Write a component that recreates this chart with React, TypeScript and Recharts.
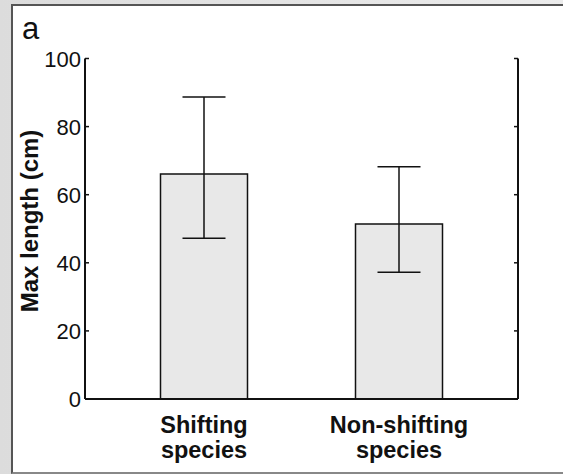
import React from 'react';
import { BarChart, Bar, XAxis, YAxis, ErrorBar } from 'recharts';

const categories = ['Shifting species', 'Non-shifting species'];
const means = [66.1, 51.4];
const upperLimits = [88.7, 68.2];
const lowerLimits = [47.2, 37.2];
const yTicks = [0, 20, 40, 60, 80, 100];

const FONT = '"Liberation Sans", Arial, Helvetica, sans-serif';

const data = categories.map((name, i) => ({
  name,
  value: means[i],
  err: [means[i] - lowerLimits[i], upperLimits[i] - means[i]],
}));

const LeftTick = ({ x, y, payload }: any) => (
  <g>
    <line x1={x} x2={x + 4} y1={y} y2={y} stroke="#111" strokeWidth={1.5} />
    <text x={x - 4} y={y} dy={8} textAnchor="end" fontSize={22} fontFamily={FONT} fill="#111">
      {payload.value}
    </text>
  </g>
);

const RightTick = ({ x, y }: any) => (
  <line x1={x - 4} x2={x} y1={y} y2={y} stroke="#111" strokeWidth={1.5} />
);

const CatTick = ({ x, y, payload }: any) => {
  const [first, second] = String(payload.value).split(' ');
  return (
    <text x={x} y={y} textAnchor="middle" fontSize={23.5} fontWeight="bold" fontFamily={FONT} fill="#111">
      <tspan x={x} dy={34}>{first}</tspan>
      <tspan x={x} dy={24.5}>{second}</tspan>
    </text>
  );
};

export default function App() {
  return (
    <div
      style={{
        position: 'absolute',
        left: 0,
        top: 0,
        width: 563,
        height: 474,
        overflow: 'hidden',
        background: 'linear-gradient(to right, #dcdcdc, #ececec)',
      }}
    >
      <div
        style={{
          position: 'absolute',
          left: 11,
          top: 4,
          width: 600,
          height: 466,
          background: '#fff',
          borderTop: '2px solid #555',
          borderLeft: '2px solid #555',
          borderBottom: '2px solid #888',
        }}
      />
      <div style={{ position: 'absolute', left: 0, top: 0 }}>
        <BarChart
          width={563}
          height={474}
          data={data}
          margin={{ top: 58.5, right: 0, bottom: 0, left: 0 }}
        >
          <text x={22} y={39} fontSize={31} fontFamily={FONT} fill="#111">a</text>
          <text
            x={38}
            y={221}
            transform="rotate(-90 38 221)"
            textAnchor="middle"
            fontSize={24}
            fontWeight="bold"
            fontFamily={FONT}
            fill="#111"
          >
            Max length (cm)
          </text>
          <XAxis
            dataKey="name"
            padding={{ left: 21.5, right: 21.5 }}
            axisLine={{ stroke: '#111', strokeWidth: 2 }}
            tickLine={false}
            tickSize={0}
            tickMargin={0}
            tick={<CatTick />}
            interval={0}
            height={75}
          />
          <XAxis
            xAxisId="top"
            dataKey="name"
            orientation="top"
            padding={{ left: 21.5, right: 21.5 }}
            axisLine={{ stroke: '#111', strokeWidth: 2 }}
            tickLine={false}
            tick={false}
            height={0}
          />
          <YAxis
            domain={[0, 100]}
            ticks={yTicks}
            width={85}
            axisLine={{ stroke: '#111', strokeWidth: 2 }}
            tickLine={false}
            tickSize={0}
            tickMargin={0}
            tick={<LeftTick />}
            allowDataOverflow
          />
          <YAxis
            yAxisId="right"
            orientation="right"
            domain={[0, 100]}
            ticks={yTicks}
            width={45}
            axisLine={{ stroke: '#111', strokeWidth: 2 }}
            tickLine={false}
            tickSize={0}
            tickMargin={0}
            tick={<RightTick />}
            allowDataOverflow
          />
          <Bar
            dataKey="value"
            fill="#e8e8e8"
            stroke="#111"
            strokeWidth={1.5}
            barSize={87}
            isAnimationActive={false}
          >
            <ErrorBar dataKey="err" width={21.5} stroke="#111" strokeWidth={1.5} />
          </Bar>
        </BarChart>
      </div>
    </div>
  );
}
